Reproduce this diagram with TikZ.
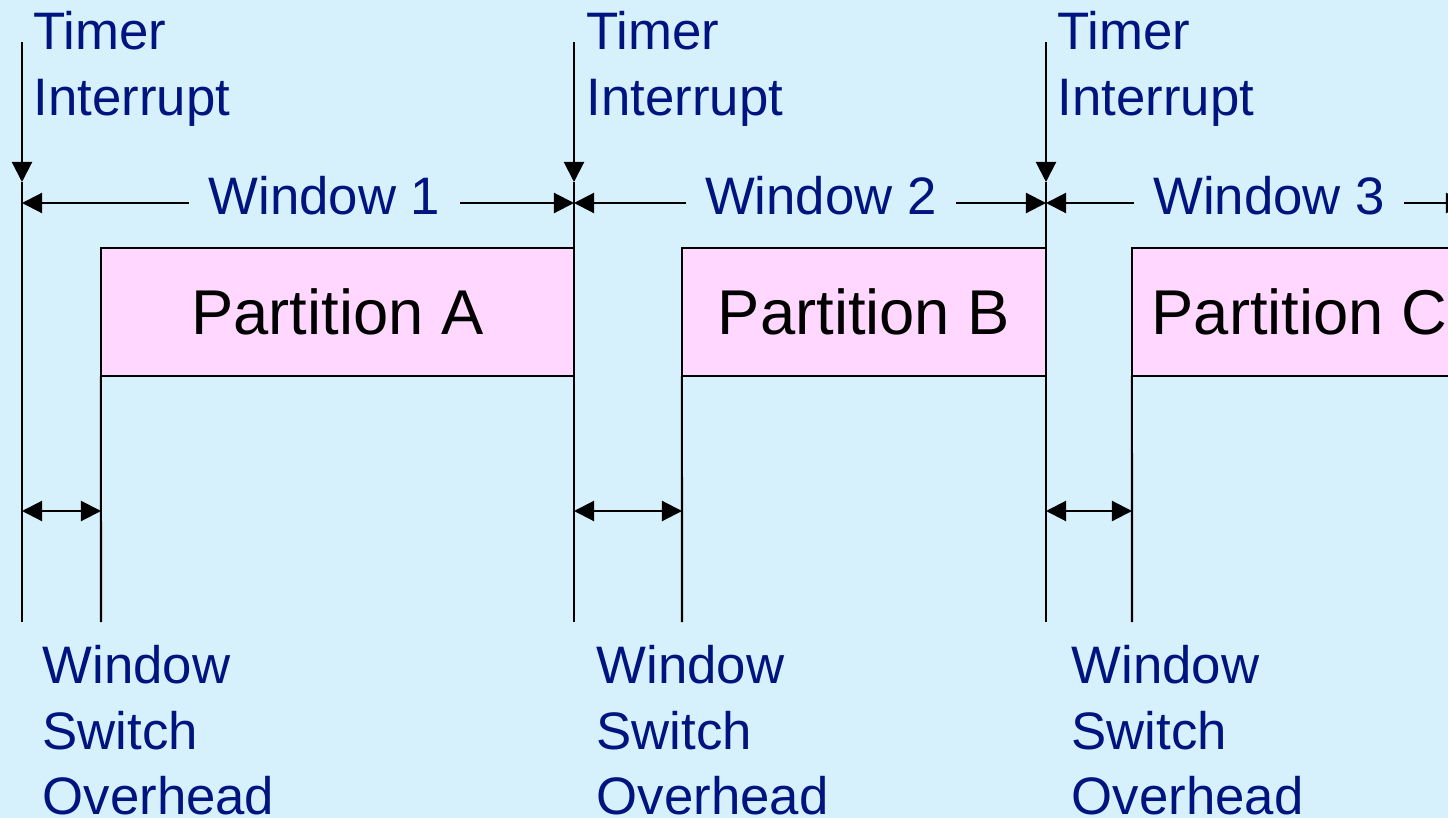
\documentclass[tikz,border=0pt]{standalone}
\usepackage{fontspec}
\setmainfont{Liberation Sans}
\usepackage{tikz}
\usetikzlibrary{arrows.meta}
\definecolor{skyback}{RGB}{215,241,252}
\definecolor{labelblue}{RGB}{0,20,128}
\definecolor{partpink}{RGB}{255,215,255}
\tikzstyle{boundline}=[line width=0.6pt]
\tikzstyle{irqarrow}=[line width=0.6pt,-{Triangle[length=5.7pt,width=5.7pt]}]
\tikzstyle{spanarrow}=[line width=0.6pt,{Triangle[length=5.7pt,width=5.7pt]}-{Triangle[length=5.7pt,width=5.7pt]}]
\tikzstyle{partbox}=[draw,line width=0.6pt,outer sep=0pt,fill=partpink,minimum height=1.28cm,font=\fontsize{18pt}{22pt}\selectfont]
\tikzstyle{bluetext}=[text=labelblue,font=\fontsize{15pt}{18.6pt}\selectfont,inner sep=0pt,align=left,anchor=north west]
\tikzstyle{winlabel}=[text=labelblue,font=\fontsize{15pt}{18.6pt}\selectfont,fill=skyback,inner xsep=5.5pt,anchor=base,yshift=-3.4pt]

\begin{document}
\begin{tikzpicture}[x=0.01cm,y=-0.01cm]
	\useasboundingbox (0,0) rectangle (1448,818);
	\clip (0,0) rectangle (1448,818);
	\fill[skyback] (0,0) rectangle (1448,818);
	% partitions
	\node[partbox,minimum width=4.73cm] (partA) at (337.5,312) {Partition A};
	\node[partbox,minimum width=3.64cm] (partB) at (864,312) {Partition B};
	\node[partbox,minimum width=3.35cm] (partC) at (1299.5,312) {Partition C};
	% window boundaries
	\coordinate (irq1top) at (22,42);
	\coordinate (irq1) at (22,182);
	\coordinate (bot1) at (22,622);
	\coordinate (irq2top) at (574,42);
	\coordinate (irq2) at (574,182);
	\coordinate (bot2) at (574,622);
	\coordinate (irq3top) at (1046,42);
	\coordinate (irq3) at (1046,182);
	\coordinate (bot3) at (1046,622);
	\draw[irqarrow] (irq1top) -- (irq1);
	\draw[irqarrow] (irq2top) -- (irq2);
	\draw[irqarrow] (irq3top) -- (irq3);
	\draw[boundline] (irq1) -- (bot1);
	\draw[boundline] (irq2) -- (bot2);
	\draw[boundline] (irq3) -- (bot3);
	% partition starts
	\coordinate (botA) at (101,622);
	\coordinate (botB) at (682,622);
	\coordinate (botC) at (1132,622);
	\draw[boundline] (partA.south west) -- (botA);
	\draw[boundline] (partB.south west) -- (botB);
	\draw[boundline] (partC.south west) -- (botC);
	% switch overhead
	\coordinate (ov1l) at (22,511);
	\coordinate (ov1r) at (101,511);
	\coordinate (ov2l) at (574,511);
	\coordinate (ov2r) at (682,511);
	\coordinate (ov3l) at (1046,511);
	\coordinate (ov3r) at (1132,511);
	\draw[spanarrow] (ov1l) -- (ov1r);
	\draw[spanarrow] (ov2l) -- (ov2r);
	\draw[spanarrow] (ov3l) -- (ov3r);
	% windows
	\coordinate (w1l) at (22,203);
	\coordinate (w1r) at (574,203);
	\coordinate (w2l) at (574,203);
	\coordinate (w2r) at (1046,203);
	\coordinate (w3l) at (1046,203);
	\coordinate (w3r) at (1466,203);
	\draw[spanarrow] (w1l) -- node[winlabel,pos=.548] (win1) {Window 1} (w1r);
	\draw[spanarrow] (w2l) -- node[winlabel,pos=.523] (win2) {Window 2} (w2r);
	\draw[spanarrow] (w3l) -- node[winlabel,pos=.531] (win3) {Window 3} (w3r);
	% labels
	\node[bluetext] (timer1) at (33,11) {Timer\\Interrupt};
	\node[bluetext] (timer2) at (586,11) {Timer\\Interrupt};
	\node[bluetext] (timer3) at (1057,11) {Timer\\Interrupt};
	\node[bluetext] (ovh1) at (42,645) {Window\\Switch\\Overhead};
	\node[bluetext] (ovh2) at (596,645) {Window\\Switch\\Overhead};
	\node[bluetext] (ovh3) at (1071,645) {Window\\Switch\\Overhead};
\end{tikzpicture}
\end{document}
